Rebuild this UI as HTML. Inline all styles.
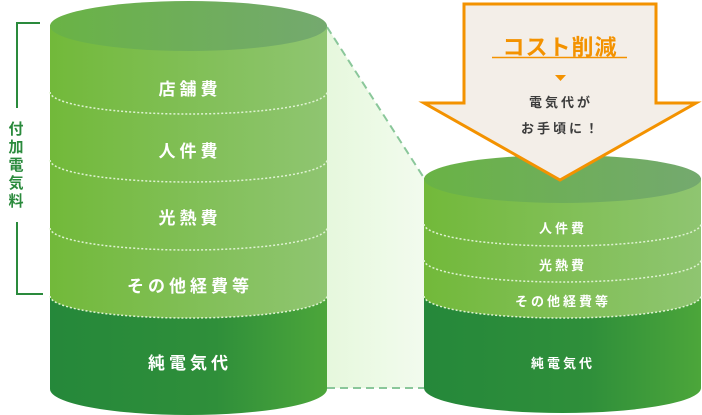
<!DOCTYPE html>
<html><head><meta charset="utf-8"><style>
html,body{margin:0;padding:0;background:#fff;}
svg{display:block;}
text{font-family:"Liberation Sans","Noto Sans CJK JP",sans-serif;font-weight:bold;}
</style></head><body>
<svg width="702" height="415" viewBox="0 0 702 415" xmlns="http://www.w3.org/2000/svg">
<defs>
<linearGradient id="lb" x1="0" x2="1" y1="0" y2="0"><stop offset="0" stop-color="#72b93a"/><stop offset="1" stop-color="#8fc571"/></linearGradient>
<linearGradient id="lt" x1="0" x2="1" y1="0" y2="0"><stop offset="0" stop-color="#69b345"/><stop offset="1" stop-color="#74a96f"/></linearGradient>
<linearGradient id="db" x1="0" x2="1" y1="0" y2="0"><stop offset="0" stop-color="#25883a"/><stop offset="0.6" stop-color="#2f8f3a"/><stop offset="1" stop-color="#4ca63a"/></linearGradient>
<linearGradient id="cf" x1="0" x2="1" y1="0" y2="0"><stop offset="0" stop-color="#e6f8dd"/><stop offset="1" stop-color="#f2fbee"/></linearGradient>
</defs>
<polygon points="327,27 424,178 424,388 327,388" fill="url(#cf)"/>
<line x1="327" y1="27" x2="424" y2="178" stroke="#8ac79a" stroke-width="2" stroke-dasharray="8,5"/>
<line x1="327" y1="388" x2="424" y2="388" stroke="#8ac79a" stroke-width="2" stroke-dasharray="8,5"/>
<path d="M50,296 L50,389 A138.5,26 0 0 0 327,389 L327,296 Z" fill="url(#db)"/>
<path d="M50,25 L50,296 A138.5,22 0 0 0 327,296 L327,25 Z" fill="url(#lb)"/>
<ellipse cx="188.5" cy="26" rx="138.5" ry="25" fill="url(#lt)"/>
<g fill="none" stroke="#dff3d2" stroke-width="1.5" stroke-dasharray="2,2">
<path d="M50,92 A138.5,22 0 0 0 327,92"/>
<path d="M50,160 A138.5,22 0 0 0 327,160"/>
<path d="M50,228 A138.5,22 0 0 0 327,228"/>
<path d="M50,296 A138.5,22 0 0 0 327,296"/>
</g>
<g fill="#fff" font-size="17" text-anchor="middle" letter-spacing="4">
<text x="190" y="95">店舗費</text>
<text x="190" y="157">人件費</text>
<text x="190" y="224">光熱費</text>
<text x="190" y="292">その他経費等</text>
<text x="190" y="369">純電気代</text>
</g>
<path d="M40,23 L17,23 L17,108 M17,222 L17,294 L43,294" fill="none" stroke="#2a8a3c" stroke-width="2"/>
<g fill="#2a8a3c" font-size="15" text-anchor="middle">
<text x="16" y="134">付</text><text x="16" y="152">加</text><text x="16" y="170">電</text><text x="16" y="188">気</text><text x="16" y="206">料</text>
</g>
<path d="M424,296 L424,388 A138.5,25 0 0 0 701,388 L701,296 Z" fill="url(#db)"/>
<path d="M424,178 L424,296 A138.5,22 0 0 0 701,296 L701,178 Z" fill="url(#lb)"/>
<ellipse cx="562.5" cy="179" rx="138.5" ry="24" fill="url(#lt)"/>
<g fill="none" stroke="#dff3d2" stroke-width="1.5" stroke-dasharray="2,2">
<path d="M424,224 A138.5,22 0 0 0 701,224"/>
<path d="M424,260 A138.5,22 0 0 0 701,260"/>
<path d="M424,296 A138.5,22 0 0 0 701,296"/>
</g>
<g fill="#fff" font-size="13" text-anchor="middle" letter-spacing="3">
<text x="563" y="233">人件費</text>
<text x="563" y="270">光熱費</text>
<text x="563" y="306">その他経費等</text>
<text x="563" y="368">純電気代</text>
</g>
<polygon points="464,4 656,4 656,103 696,103 560,180 424,103 464,103" fill="#f3eee8" stroke="#f39200" stroke-width="3" stroke-linejoin="miter"/>
<text x="560" y="55" fill="#f39200" font-size="22" text-anchor="middle" letter-spacing="1">コスト削減</text>
<line x1="492" y1="57.5" x2="627" y2="57.5" stroke="#f39200" stroke-width="1.5"/>
<polygon points="555,75 566,75 560.5,81" fill="#f39200"/>
<g fill="#3c3c3c" font-size="13" text-anchor="middle" letter-spacing="3">
<text x="561" y="107">電気代が</text>
<text x="561" y="133">お手頃に！</text>
</g>
</svg>
</body></html>
